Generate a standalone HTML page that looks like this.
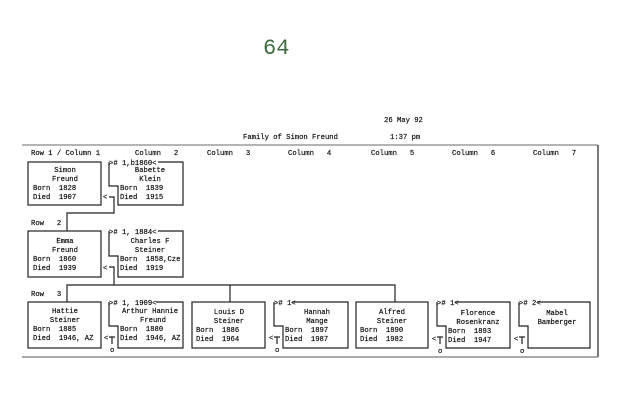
<!DOCTYPE html>
<html><head><meta charset="utf-8"><style>
html,body{margin:0;padding:0;background:#fff;}
svg{display:block;}
text{font-family:"Liberation Mono",monospace;font-size:7.2px;fill:#111;white-space:pre;stroke:#111;stroke-width:0.2px;}
.c{text-anchor:middle;}
</style></head><body>
<svg width="617" height="407" viewBox="0 0 617 407" xmlns="http://www.w3.org/2000/svg" xml:space="preserve">
<text x="263" y="54" style="font-family:'Liberation Mono',monospace;font-size:22px;fill:#3d6b3d;stroke:none">64</text>
<text x="384" y="122">26 May 92</text>
<text x="243" y="139">Family of Simon Freund</text>
<text x="390" y="139">1:37 pm</text>
<g fill="none" stroke="#222" stroke-width="1.2">
<line x1="22" y1="145" x2="598" y2="145" stroke="#888"/>
<line x1="598" y1="145" x2="598" y2="357"/>
<line x1="22" y1="357" x2="598" y2="357" stroke="#777"/>
<rect x="28" y="162" width="73" height="43"/>
<path d="M109,162 L109,186 L118,186 L118,205 L183,205 L183,162 L158,162"/>
<path d="M109,197 L114,197 L114,213 L67,213 L67,231"/>
<rect x="28" y="231" width="73" height="46"/>
<path d="M109,231 L109,256 L118,256 L118,277 L183,277 L183,231 L158,231"/>
<path d="M109,267 L114,267 L114,285 M67,302 L67,285 L395,285 L395,302 M230,285 L230,302"/>
<rect x="28" y="302" width="73" height="46"/>
<path d="M109,302 L109,326 L118,326 L118,348 L183,348 L183,302 L156,302"/>
<path d="M109,337 L115,337 M112,337 L112,344"/>
<rect x="192" y="302" width="73" height="46"/>
<path d="M274,302 L274,326 L283,326 L283,348 L348,348 L348,302 L292,302"/>
<path d="M274,337 L280,337 M277,337 L277,344"/>
<rect x="356" y="302" width="72" height="46"/>
<path d="M437,302 L437,326 L446,326 L446,348 L510,348 L510,302 L455,302"/>
<path d="M437,337 L443,337 M440,337 L440,344"/>
<path d="M519,302 L519,326 L528,326 L528,348 L590,348 L590,302 L537,302"/>
<path d="M519,337 L525,337 M522,337 L522,344"/>
</g>
<text x="31" y="155">Row 1 / Column 1</text>
<text x="135" y="155">Column   2</text>
<text x="207" y="155">Column   3</text>
<text x="288" y="155">Column   4</text>
<text x="371" y="155">Column   5</text>
<text x="452" y="155">Column   6</text>
<text x="533" y="155">Column   7</text>
<text x="31" y="225">Row   2</text>
<text x="31" y="296">Row   3</text>
<text class="c" x="65" y="172">Simon</text>
<text class="c" x="65" y="181">Freund</text>
<text x="33" y="190">Born  1828</text>
<text x="33" y="199">Died  1907</text>
<text x="109" y="165">&gt;# 1,b1860&lt;</text>
<text class="c" x="150" y="172">Babette</text>
<text class="c" x="150" y="181">Klein</text>
<text x="120" y="190">Born  1839</text>
<text x="120" y="199">Died  1915</text>
<text x="103" y="199">&lt;</text>
<text class="c" x="65" y="243">Emma</text>
<text class="c" x="65" y="252">Freund</text>
<text x="33" y="261">Born  1860</text>
<text x="33" y="270">Died  1939</text>
<text x="109" y="234">&gt;# 1, 1884&lt;</text>
<text class="c" x="150" y="243">Charles F</text>
<text class="c" x="150" y="252">Steiner</text>
<text x="120" y="261">Born  1858,Cze</text>
<text x="120" y="270">Died  1919</text>
<text x="103" y="270">&lt;</text>
<text class="c" x="65" y="313">Hattie</text>
<text class="c" x="65" y="322">Steiner</text>
<text x="33" y="331">Born  1885</text>
<text x="33" y="340">Died  1946, AZ</text>
<text x="109" y="305">&gt;# 1, 1909&lt;</text>
<text class="c" x="150" y="313">Arthur Hannie</text>
<text class="c" x="153" y="322">Freund</text>
<text x="120" y="331">Born  1880</text>
<text x="120" y="340">Died  1946, AZ</text>
<text x="104" y="340">&lt;</text><text x="110" y="352">o</text>
<text class="c" x="229" y="314">Louis D</text>
<text class="c" x="229" y="323">Steiner</text>
<text x="196" y="332">Born  1886</text>
<text x="196" y="341">Died  1964</text>
<text x="274" y="305">&gt;# 1&lt;</text>
<text class="c" x="317" y="314">Hannah</text>
<text class="c" x="317" y="323">Mange</text>
<text x="285" y="332">Born  1897</text>
<text x="285" y="341">Died  1987</text>
<text x="269" y="340">&lt;</text><text x="275" y="352">o</text>
<text class="c" x="392" y="314">Alfred</text>
<text class="c" x="392" y="323">Steiner</text>
<text x="360" y="332">Born  1890</text>
<text x="360" y="341">Died  1982</text>
<text x="437" y="305">&gt;# 1&lt;</text>
<text class="c" x="478" y="315">Florence</text>
<text class="c" x="478" y="324">Rosenkranz</text>
<text x="448" y="333">Born  1893</text>
<text x="448" y="342">Died  1947</text>
<text x="432" y="341">&lt;</text><text x="438" y="353">o</text>
<text x="519" y="305">&gt;# 2&lt;</text>
<text class="c" x="557" y="315">Mabel</text>
<text class="c" x="557" y="324">Bamberger</text>
<text x="514" y="341">&lt;</text><text x="520" y="353">o</text>
</svg>
</body></html>
